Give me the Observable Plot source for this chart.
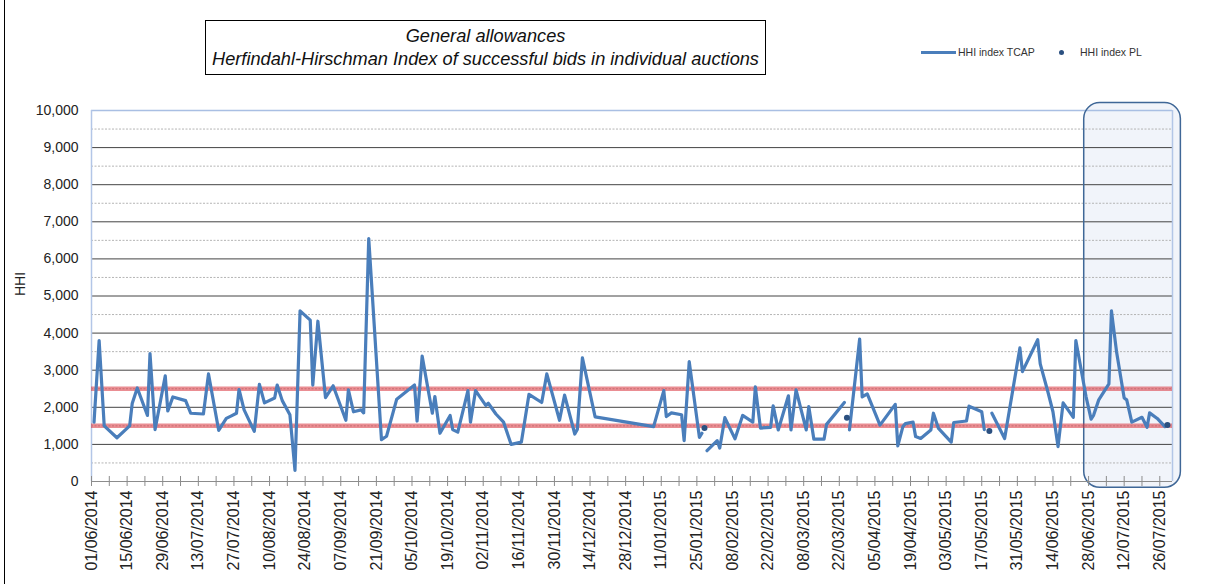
<!DOCTYPE html>
<html>
<head>
<meta charset="utf-8">
<script src="https://cdn.jsdelivr.net/npm/d3@7"></script>
<script src="https://cdn.jsdelivr.net/npm/@observablehq/plot@0.6"></script>
<style>
  body { margin: 0; background: #fff; }
  #wrap { position: relative; width: 1211px; height: 584px; overflow: hidden; font-family: "Liberation Sans", Arial, sans-serif; color: #222; }
  #border { position: absolute; left: 4px; top: 0; width: 1px; height: 584px; background: #000; }
  #title { position: absolute; left: 205px; top: 20px; width: 561px; height: 55px; box-sizing: border-box; border: 1px solid #000;
           text-align: center; font-style: italic; font-size: 18.2px; line-height: 23px; padding-top: 4px; color: #111; background: #fff; white-space: nowrap; }
  .lg { position: absolute; font-size: 10.5px; color: #333; line-height: 12px; }
  #sw1 { position: absolute; left: 921px; top: 50.5px; width: 35px; height: 3px; background: #4a7ebb; }
  #sw2 { position: absolute; left: 1058.5px; top: 49.5px; width: 5px; height: 5px; border-radius: 50%; background: #2b5080; }
  #chart { position: absolute; left: 0; top: 0; }
</style>
</head>
<body>
<div id="wrap">
  <div id="chart"></div>
  <div id="border"></div>
  <div id="title">General allowances<br>Herfindahl-Hirschman Index of successful bids in individual auctions</div>
  <div id="sw1"></div><div class="lg" style="left:958px;top:46px">HHI index TCAP</div>
  <div id="sw2"></div><div class="lg" style="left:1080px;top:46px">HHI index PL</div>
</div>
<script>
// ---------- data ----------
const tcapDates = [
"2014-06-02","2014-06-04","2014-06-06","2014-06-11","2014-06-16","2014-06-17","2014-06-19","2014-06-23","2014-06-24","2014-06-26","2014-06-30",
"2014-07-01","2014-07-03","2014-07-08","2014-07-10","2014-07-15","2014-07-17","2014-07-21","2014-07-24","2014-07-26","2014-07-28","2014-07-29","2014-07-31",
"2014-08-04","2014-08-06","2014-08-08","2014-08-12","2014-08-13","2014-08-15","2014-08-18","2014-08-20","2014-08-22","2014-08-26","2014-08-27","2014-08-29",
"2014-09-01","2014-09-04","2014-09-09","2014-09-10","2014-09-12","2014-09-15","2014-09-16","2014-09-18","2014-09-23","2014-09-25","2014-09-29",
"2014-10-06","2014-10-07","2014-10-09","2014-10-13","2014-10-14","2014-10-16","2014-10-20","2014-10-21","2014-10-23","2014-10-27","2014-10-28","2014-10-30",
"2014-11-03","2014-11-04","2014-11-07","2014-11-10","2014-11-13","2014-11-17","2014-11-20","2014-11-25","2014-11-27",
"2014-12-02","2014-12-04","2014-12-08","2014-12-09","2014-12-11","2014-12-16",
"2015-01-08","2015-01-12","2015-01-13","2015-01-15","2015-01-19","2015-01-20","2015-01-22","2015-01-26","2015-01-27","2015-01-28","2015-01-29",
"2015-02-02","2015-02-03","2015-02-05","2015-02-09","2015-02-12","2015-02-16","2015-02-17","2015-02-19","2015-02-23","2015-02-24","2015-02-26",
"2015-03-02","2015-03-03","2015-03-05","2015-03-09","2015-03-10","2015-03-12","2015-03-16","2015-03-17","2015-03-24","2015-03-25","2015-03-26","2015-03-30","2015-03-31",
"2015-04-02","2015-04-07","2015-04-13","2015-04-14","2015-04-16","2015-04-17","2015-04-20","2015-04-21","2015-04-23","2015-04-27","2015-04-28","2015-04-30",
"2015-05-05","2015-05-06","2015-05-11","2015-05-12","2015-05-17","2015-05-18","2015-05-20","2015-05-21","2015-05-26",
"2015-06-01","2015-06-02","2015-06-08","2015-06-09","2015-06-12","2015-06-14","2015-06-16","2015-06-18","2015-06-22","2015-06-23","2015-06-27","2015-06-29","2015-06-30",
"2015-07-02","2015-07-06","2015-07-07","2015-07-09","2015-07-12","2015-07-13","2015-07-15","2015-07-19","2015-07-21","2015-07-22","2015-07-25","2015-07-28"
];
const tcapValues = [
1600,3800,1500,1180,1500,2100,2520,1780,3450,1400,2850,
1900,2280,2180,1840,1820,2900,1380,1700,1770,1840,2480,1930,
1350,2620,2120,2250,2600,2180,1800,300,4600,4350,2600,4320,
2260,2580,1650,2470,1880,1930,1850,6550,1130,1220,2220,
2600,1630,3380,1840,2290,1300,1780,1400,1330,2450,1600,2450,
2050,2110,1820,1600,1000,1060,2350,2130,2900,
1650,2330,1280,1400,3330,1740,
1480,2450,1750,1850,1800,1100,3230,1190,1300,null,830,
1100,900,1720,1150,1780,1600,2550,1440,1460,2040,1390,
2310,1390,2470,1390,2020,1140,1140,1540,2130,null,1390,3840,2280,
2360,1520,2080,960,1480,1560,1600,1210,1160,1390,1840,1430,
1060,1590,1630,2030,1880,1400,null,1840,1160,
3600,2960,3820,3170,2420,1880,940,2120,1730,3800,2290,1680,1790,
2200,2630,4600,3500,2250,2200,1600,1730,1460,1850,1700,1480
];
const plDates  = ["2015-01-28","2015-03-25","2015-05-20","2015-07-29"];
const plValues = [1440, 1720, 1360, 1520];

const xLabelDates = ["2014-06-01","2014-06-15","2014-06-29","2014-07-13","2014-07-27","2014-08-10","2014-08-24","2014-09-07",
"2014-09-21","2014-10-05","2014-10-19","2014-11-02","2014-11-16","2014-11-30","2014-12-14","2014-12-28","2015-01-11",
"2015-01-25","2015-02-08","2015-02-22","2015-03-08","2015-03-22","2015-04-05","2015-04-19","2015-05-03","2015-05-17",
"2015-05-31","2015-06-14","2015-06-28","2015-07-12","2015-07-26"];
const yTicks = [0,1000,2000,3000,4000,5000,6000,7000,8000,9000,10000];
const yMinor = [500,1500,2500,3500,4500,5500,6500,7500,8500,9500];
const thresholds = [1500, 2500];
const highlightPeriod = ["2015-06-26T07:00", "2015-08-03T07:00"];
const xDomain = ["2014-06-01", "2015-07-31"];

// ---------- build ----------
const start = new Date(xDomain[0]), end = new Date(xDomain[1]);
const tcap = tcapDates.map((d, i) => ({date: new Date(d), hhi: tcapValues[i]}));
const pl = plDates.map((d, i) => ({date: new Date(d), hhi: plValues[i]}));
const labelTicks = xLabelDates.map(d => new Date(d));
const weekTicks = d3.range(0, 421, 7).map(n => d3.utcDay.offset(start, n));
const hl = [{x1: new Date(highlightPeriod[0]), x2: new Date(highlightPeriod[1])}];
const fmt = d3.utcFormat("%d/%m/%Y");

const chart = Plot.plot({
  width: 1211, height: 584,
  marginLeft: 91, marginRight: 39, marginTop: 110, marginBottom: 103,
  style: {fontFamily: "'Liberation Sans', Arial, sans-serif", fontSize: "14px", color: "#222", background: "transparent", overflow: "visible"},
  x: {type: "utc", domain: [start, end]},
  y: {domain: [0, 10000]},
  marks: [
    Plot.rect(hl, {x1: "x1", x2: "x2", y1: -170, y2: 10200, rx: 16, fill: "#f1f4fa"}),
    Plot.ruleY(yMinor, {stroke: "#b4b4b4", strokeDasharray: "2,1.5", strokeWidth: 1}),
    Plot.ruleY(yTicks.filter(v => v > 0 && v < 10000), {stroke: "#444", strokeWidth: 1}),
    Plot.ruleY([10000], {stroke: "#a9bfe3", strokeWidth: 1.5}),
    Plot.ruleX([start, end], {y1: 0, y2: 10000, stroke: "#b3c6e7", strokeWidth: 1.5}),
    Plot.rect(hl, {x1: "x1", x2: "x2", y1: -170, y2: 10200, rx: 16, fill: "none", stroke: "#3f6797", strokeWidth: 1.5}),
    Plot.ruleY(thresholds, {x1: start, x2: d3.utcDay.offset(end, 0.5), stroke: "#d8323a", strokeOpacity: 0.55, strokeWidth: 4.5}),
    Plot.ruleY([0], {stroke: "#8c8c8c", strokeWidth: 1}),
    Plot.ruleX(weekTicks, {y1: -135, y2: 135, stroke: "#8c8c8c", strokeWidth: 1}),
    Plot.lineY(tcap, {x: "date", y: "hhi", stroke: "#4a7ebb", strokeWidth: 3.2, strokeLinejoin: "round", strokeLinecap: "round"}),
    Plot.dot(pl, {x: "date", y: "hhi", r: 3, fill: "#2b5080", stroke: "none"}),
    Plot.axisY({ticks: yTicks, tickFormat: d3.format(","), tickSize: 0, tickPadding: 13, label: null, fontSize: 14}),
    Plot.axisX({ticks: labelTicks, tickFormat: fmt, tickRotate: -90, tickSize: 0, tickPadding: 9, label: null, fontSize: 16}),
    Plot.text(["HHI"], {frameAnchor: "left", dx: -71, rotate: -90, fontSize: 14, text: d => d})
  ]
});
document.getElementById("chart").appendChild(chart);
</script>
</body>
</html>
